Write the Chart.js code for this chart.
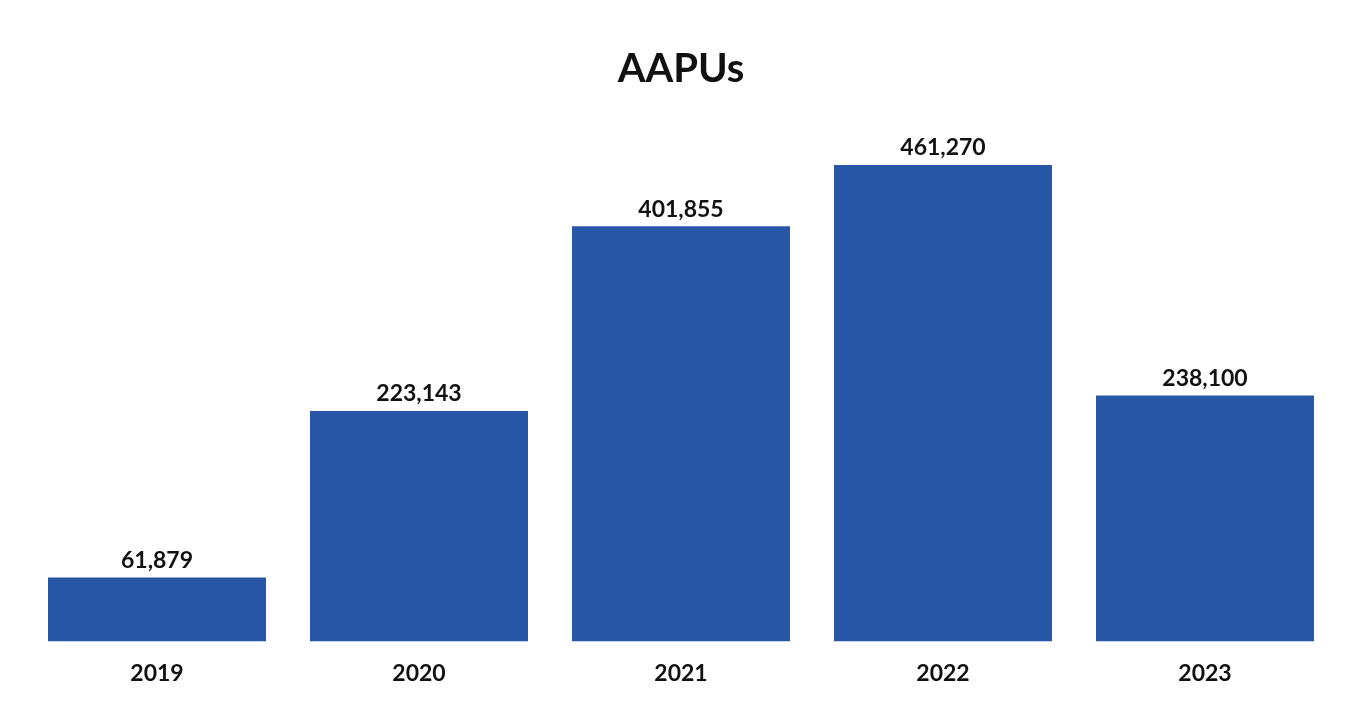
<!DOCTYPE html>
<html>
<head>
<meta charset="utf-8">
<script src="https://cdn.jsdelivr.net/npm/chart.js@4.4.0/dist/chart.umd.min.js"></script>
<style>
  html, body { margin: 0; padding: 0; background: #fff; }
  #wrap { width: 1354px; height: 726px; }
</style>
</head>
<body>
<div id="wrap"><canvas id="chart"></canvas></div>
<script>
const years = ["2019", "2020", "2021", "2022", "2023"];
const aapus = [61879, 223143, 401855, 461270, 238100];

// draws the number above each bar
const barLabels = {
  id: "barLabels",
  afterDatasetsDraw(chart) {
    const ctx = chart.ctx;
    const meta = chart.getDatasetMeta(0);
    ctx.save();
    ctx.font = "bold 23px Lato, 'Noto Sans', sans-serif";
    ctx.fillStyle = "#111";
    ctx.textAlign = "center";
    ctx.textBaseline = "middle";
    meta.data.forEach((bar, i) => {
      ctx.fillText(aapus[i].toLocaleString("en-US"), bar.x, bar.y - 17);
    });
    ctx.restore();
  }
};

const ctx = document.getElementById("chart").getContext("2d");
new Chart(ctx, {
  type: "bar",
  data: {
    labels: years,
    datasets: [{
      label: "AAPUs",
      data: aapus,
      backgroundColor: "#2757a6",
      barPercentage: 0.832,
      categoryPercentage: 1
    }]
  },
  options: {
    responsive: true,
    maintainAspectRatio: false,
    animation: false,
    layout: { padding: { left: 26, right: 18, top: 0, bottom: 29 } },
    plugins: {
      legend: { display: false },
      tooltip: { enabled: false },
      title: {
        display: true,
        text: "AAPUs",
        color: "#111",
        font: { family: "Lato, 'Noto Sans', sans-serif", size: 40, weight: "bold" },
        padding: { top: 45, bottom: 32 }
      }
    },
    scales: {
      x: {
        grid: { display: false },
        border: { display: false },
        ticks: {
          color: "#111",
          padding: 10,
          font: { family: "Lato, 'Noto Sans', sans-serif", size: 23, weight: "bold" }
        }
      },
      y: {
        display: false,
        min: 0,
        max: 500000
      }
    }
  },
  plugins: [barLabels]
});
</script>
</body>
</html>
